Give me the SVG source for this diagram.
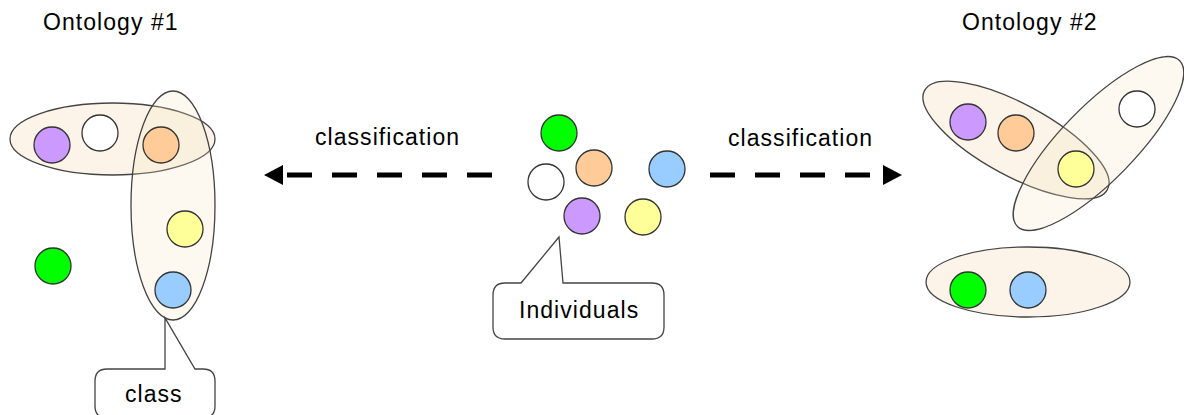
<svg xmlns="http://www.w3.org/2000/svg" width="1184" height="415" viewBox="0 0 1184 415">
<style>
  .lbl { font-family: "Liberation Sans", Arial, sans-serif; font-size: 23px; fill: #000; letter-spacing: 1.05px; }
  .set { stroke: #444; stroke-width: 1.3; }
  .setA { fill: #f3cf9e; fill-opacity: 0.24; }
  .setB { fill: #f8e6bf; fill-opacity: 0.24; }
  .ind { stroke: #333; stroke-width: 1.3; }
  .purple { fill: #cc99ff; }
  .white { fill: #ffffff; }
  .orange { fill: #ffcc99; }
  .yellow { fill: #ffff99; }
  .blue { fill: #99ccff; }
  .green { fill: #00ff00; }
  .dash { fill: none; stroke: #000; stroke-width: 5; stroke-dasharray: 25 20; }
  .callout { fill: #fff; stroke: #444; stroke-width: 1.3; }
</style>
<defs>
  <marker id="head" markerUnits="userSpaceOnUse" markerWidth="20" markerHeight="22" refX="0" refY="10" orient="auto" overflow="visible">
    <path d="M0,0 L19,10 L0,20 Z" fill="#000"/>
  </marker>
</defs>

<g id="title1"><text class="lbl" x="43" y="30">Ontology #1</text></g>
<g id="title2"><text class="lbl" x="962" y="30">Ontology #2</text></g>

<g id="ontology1">
  <ellipse id="o1-class-h" class="set setA" cx="112.5" cy="139" rx="102.5" ry="36"/>
  <ellipse id="o1-class-v" class="set setB" cx="173" cy="205.5" rx="42" ry="114.5"/>
  <circle class="ind purple" cx="52" cy="145" r="18"/>
  <circle class="ind white" cx="100" cy="133" r="18"/>
  <circle class="ind orange" cx="161" cy="145" r="18"/>
  <circle class="ind yellow" cx="185" cy="229" r="18"/>
  <circle class="ind blue" cx="173" cy="290" r="18"/>
  <circle class="ind green" cx="53" cy="266" r="18"/>
</g>

<g id="individuals">
  <circle class="ind green" cx="559" cy="133" r="18"/>
  <circle class="ind white" cx="546" cy="182" r="18"/>
  <circle class="ind orange" cx="594" cy="168" r="18"/>
  <circle class="ind blue" cx="667" cy="169" r="18"/>
  <circle class="ind purple" cx="582" cy="216" r="18"/>
  <circle class="ind yellow" cx="643" cy="217" r="18"/>
</g>

<g id="ontology2">
  <ellipse id="o2-class-a" class="set setA" cx="1016" cy="140" rx="104" ry="36" transform="rotate(28.5 1016 140)"/>
  <ellipse id="o2-class-b" class="set setB" cx="1098.5" cy="143.5" rx="116" ry="37" transform="rotate(-45.7 1098.5 143.5)"/>
  <ellipse id="o2-class-c" class="set setA" cx="1028" cy="282" rx="102" ry="35"/>
  <circle class="ind purple" cx="968" cy="122" r="18"/>
  <circle class="ind orange" cx="1016" cy="133" r="18"/>
  <circle class="ind yellow" cx="1076" cy="169" r="18"/>
  <circle class="ind white" cx="1137" cy="109" r="18"/>
  <circle class="ind green" cx="968" cy="290" r="18"/>
  <circle class="ind blue" cx="1028" cy="290" r="18"/>
</g>

<g id="connectors">
  <path id="arrow-left" class="dash" d="M492,175 L283,175" marker-end="url(#head)"/>
  <path id="arrow-right" class="dash" d="M710,175 L883,175" marker-end="url(#head)"/>
</g>

<g id="label-left"><text class="lbl" x="315" y="145">classification</text></g>
<g id="label-right"><text class="lbl" x="728" y="146">classification</text></g>

<g id="callout-individuals">
  <path class="callout" d="M521,283 L559,237 L563,283 L652,283 Q664,283 664,295 L664,327 Q664,339 652,339 L505,339 Q493,339 493,327 L493,295 Q493,283 505,283 Z"/>
  <text class="lbl" x="519" y="318">Individuals</text>
</g>

<g id="callout-class">
  <path class="callout" d="M165,369 L165,318 L195,369 L203,369 Q215,369 215,381 L215,406 Q215,418 203,418 L107,418 Q95,418 95,406 L95,381 Q95,369 107,369 Z"/>
  <text class="lbl" x="125" y="402">class</text>
</g>
</svg>
